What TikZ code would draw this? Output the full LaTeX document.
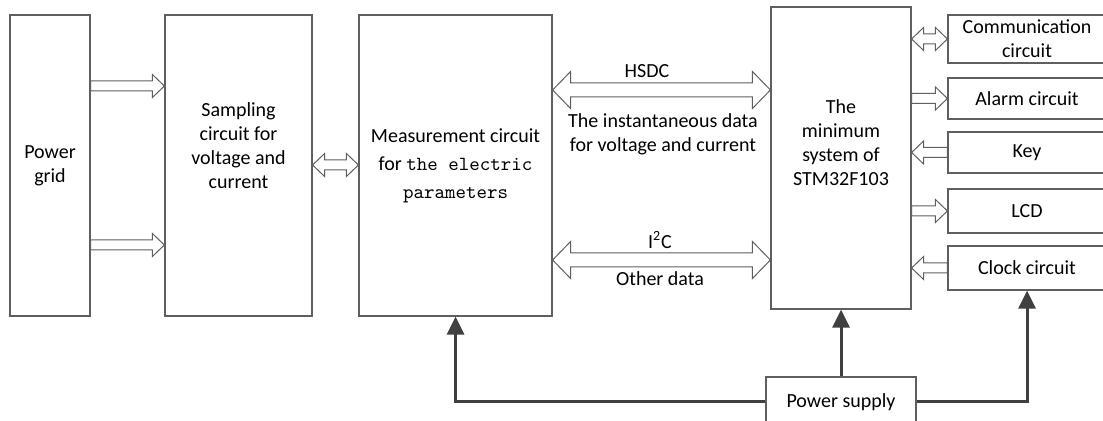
\documentclass[tikz,border=0pt]{standalone}
\usepackage{fontspec}
\setmainfont{Carlito}
\usepackage{tikz}
\usetikzlibrary{arrows.meta, calc}
\definecolor{boxline}{RGB}{95,95,95}
\definecolor{powerline}{RGB}{64,64,64}
\newcommand{\liftedtext}[2]{\raisebox{0pt}[\height][\dimexpr\depth+#1\relax]{\begin{tabular}{@{}c@{}}#2\end{tabular}}}
\tikzset{
  arshaft/.code={\def\arshaft{#1}},
  arhead/.code={\def\arhead{#1}},
  arlen/.code={\def\arlen{#1}},
  blockbox/.style={rectangle, draw=boxline, line width=0.6pt, fill=white, align=center, inner sep=0pt},
  textnode/.style={align=center, inner sep=1pt},
  smallhollow/.style={arshaft=2.5pt, arhead=5.75pt, arlen=6pt},
  bighollow/.style={arshaft=3.5pt, arhead=9.25pt, arlen=9pt},
  hollowarrow/.style={draw=boxline, line width=0.5pt, fill=white, to path={
    let \p1=(\tikztostart), \p2=(\tikztotarget), \n1={ifthenelse(\x2>\x1,1,-1)} in
    (\x1,{\y1+\arshaft}) -- ({\x2-(\n1)*\arlen},{\y1+\arshaft}) -- ({\x2-(\n1)*\arlen},{\y1+\arhead})
    -- (\x2,\y1) -- ({\x2-(\n1)*\arlen},{\y1-\arhead}) -- ({\x2-(\n1)*\arlen},{\y1-\arshaft})
    -- (\x1,{\y1-\arshaft}) -- cycle}},
  hollowboth/.style={draw=boxline, line width=0.5pt, fill=white, to path={
    let \p1=(\tikztostart), \p2=(\tikztotarget), \n1={ifthenelse(\x2>\x1,1,-1)} in
    (\x1,\y1) -- ({\x1+(\n1)*\arlen},{\y1+\arhead}) -- ({\x1+(\n1)*\arlen},{\y1+\arshaft})
    -- ({\x2-(\n1)*\arlen},{\y1+\arshaft}) -- ({\x2-(\n1)*\arlen},{\y1+\arhead}) -- (\x2,\y1)
    -- ({\x2-(\n1)*\arlen},{\y1-\arhead}) -- ({\x2-(\n1)*\arlen},{\y1-\arshaft})
    -- ({\x1+(\n1)*\arlen},{\y1-\arshaft}) -- ({\x1+(\n1)*\arlen},{\y1-\arhead}) -- cycle}},
  powerarrow/.style={-{Triangle[length=9pt, width=8.5pt]}, line width=1.5pt, draw=powerline}
}

\begin{document}
\begin{tikzpicture}[x=0.5pt, y=-0.5pt, font=\fontsize{10}{12}\selectfont]
  \useasboundingbox (0,0) rectangle (1103,421);
  \clip (0,0) rectangle (1103,421);

  \node[blockbox, minimum width=40pt, minimum height=150.5pt] (grid) at (50,165.5) {Power\\grid};
  \node[blockbox, minimum width=73.5pt, minimum height=150.5pt] (samp) at (238.5,165.5)
        {\liftedtext{18pt}{Sampling\\circuit for\\voltage and\\current}};
  \node[blockbox, minimum width=96.5pt, minimum height=150.5pt] (meas) at (455.5,165.5)
        {Measurement circuit\\[2pt]for {\ttfamily the electric}\\[2pt]{\ttfamily parameters}};
  \node[blockbox, minimum width=70pt, minimum height=151pt] (stm) at (841,158)
        {\liftedtext{13.5pt}{The\\minimum\\system of\\STM32F103}};
  \node[blockbox, minimum width=79pt, minimum height=24pt] (comm) at (1027,39) {Communication\\circuit};
  \node[blockbox, minimum width=79pt, minimum height=20.5pt] (alarm) at (1027,98.5) {Alarm circuit};
  \node[blockbox, minimum width=79pt, minimum height=20.5pt] (key) at (1027,152.5) {Key};
  \node[blockbox, minimum width=79pt, minimum height=22pt] (lcd) at (1027,211) {LCD};
  \node[blockbox, minimum width=79pt, minimum height=22pt] (clock) at (1027,268) {Clock circuit};
  \node[blockbox, minimum width=75pt, minimum height=25pt] (psu) at (841,402) {Power supply};

  \node[textnode] (hsdc) at (647,71) {HSDC};
  \node[textnode] (inst) at (663,134) {The instantaneous data\\for voltage and current};
  \node[textnode] (i2c) at (660,240) {I\textsuperscript{2}C};
  \node[textnode] (other) at (660,279) {Other data};

  \draw[hollowarrow, smallhollow] (grid.east |- 0,86) to (samp.west |- 0,86);
  \draw[hollowarrow, smallhollow] (grid.east |- 0,245) to (samp.west |- 0,245);
  \draw[hollowboth, smallhollow] (samp.east |- 0,165) to (meas.west |- 0,165);
  \draw[hollowboth, bighollow] (meas.east |- 0,90) to (stm.west |- 0,90);
  \draw[hollowboth, bighollow] (meas.east |- 0,260) to (stm.west |- 0,260);
  \draw[hollowboth, smallhollow] (stm.east |- comm.west) to (comm.west);
  \draw[hollowarrow, smallhollow] (stm.east |- alarm.west) to (alarm.west);
  \draw[hollowarrow, smallhollow] (key.west) to (stm.east |- key.west);
  \draw[hollowarrow, smallhollow] (stm.east |- lcd.west) to (lcd.west);
  \draw[hollowarrow, smallhollow] (clock.west) to (stm.east |- clock.west);

  \draw[powerarrow] (psu.west) -| (meas.south);
  \draw[powerarrow] (psu.north) -- (stm.south);
  \draw[powerarrow] (psu.east) -| (clock.south);
\end{tikzpicture}
\end{document}
